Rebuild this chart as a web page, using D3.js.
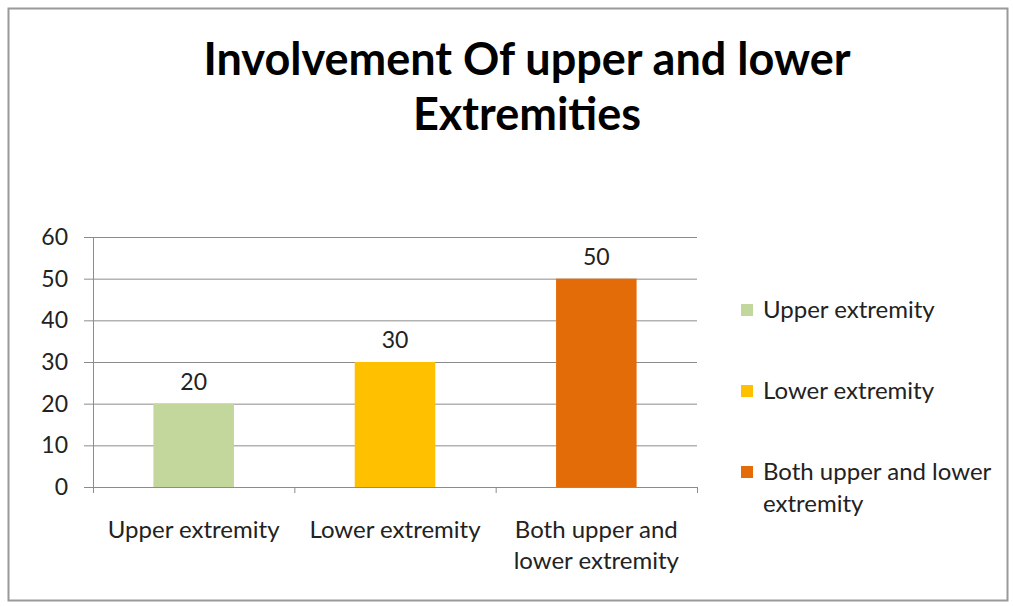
<!DOCTYPE html>
<html>
<head>
<meta charset="utf-8">
<script src="https://cdn.jsdelivr.net/npm/d3@7"></script>
<style>
  body { margin: 0; background: #fff; }
  svg { display: block; font-family: Lato, "Open Sans", sans-serif; }
</style>
</head>
<body>
<div id="chart"></div>
<script>
const categories = ['Upper extremity', 'Lower extremity', 'Both upper and lower extremity']
const values = [20, 30, 50]
const colors = ['#C3D69B', '#FFC000', '#E36C09']
const yTicks = [0, 10, 20, 30, 40, 50, 60]
const titleLines = ['Involvement Of upper and lower', 'Extremities']
const xLabelLines = [['Upper extremity'], ['Lower extremity'], ['Both upper and', 'lower extremity']]
const legendLines = [['Upper extremity'], ['Lower extremity'], ['Both upper and lower', 'extremity']]

const W = 1013, H = 607
const margin = {top: 237, right: 316, bottom: 120, left: 93}
const width = W - margin.left - margin.right
const height = H - margin.top - margin.bottom

const svg = d3.select('#chart').append('svg')
    .attr('width', W)
    .attr('height', H)

// outer frame
svg.append('rect')
    .attr('x', 8.5).attr('y', 8.5)
    .attr('width', 999).attr('height', 592)
    .attr('fill', '#fff')
    .attr('stroke', '#9a9a9a')
    .attr('stroke-width', 2)

svg.append('text')
    .attr('x', 527)
    .attr('text-anchor', 'middle')
    .style('font-weight', 'bold')
    .style('font-size', '45px')
    .attr('fill', '#000')
  .selectAll('tspan')
    .data(titleLines)
  .enter().append('tspan')
    .attr('x', 527)
    .attr('y', (d, i) => 75 + i * 55)
    .text(d => d)

const g = svg.append('g')
    .attr('transform', 'translate(' + margin.left + ',' + margin.top + ')')

const x = d3.scaleBand()
    .domain(categories)
    .range([0, width])
    .paddingInner(0.6)
    .paddingOuter(0.3)

const xTicks = d3.scaleBand().domain(categories).range([0, width])

const y = d3.scaleLinear()
    .domain([0, 60])
    .range([height, 0])

// gridlines
g.append('g')
    .selectAll('line')
    .data(yTicks)
  .enter().append('line')
    .attr('x1', -9).attr('x2', width)
    .attr('y1', d => y(d) + 0.5).attr('y2', d => y(d) + 0.5)
    .attr('stroke', '#8c8c8c')
    .attr('stroke-width', 1)

// y axis line
g.append('line')
    .attr('x1', 0.5).attr('x2', 0.5)
    .attr('y1', 0).attr('y2', height + 6)
    .attr('stroke', '#8c8c8c')

// x category ticks
g.append('g')
    .selectAll('line')
    .data(d3.range(categories.length + 1))
  .enter().append('line')
    .attr('x1', i => i * xTicks.bandwidth() + 0.5)
    .attr('x2', i => i * xTicks.bandwidth() + 0.5)
    .attr('y1', height).attr('y2', height + 6)
    .attr('stroke', '#8c8c8c')

g.append('g')
    .selectAll('text')
    .data(yTicks)
  .enter().append('text')
    .attr('x', -25)
    .attr('y', d => y(d))
    .attr('dy', '0.35em')
    .attr('text-anchor', 'end')
    .style('font-size', '23px')
    .attr('fill', '#222')
    .text(d => d)

g.selectAll('.bar')
    .data(values)
  .enter().append('rect')
    .attr('class', 'bar')
    .attr('x', (d, i) => x(categories[i]))
    .attr('y', d => y(d))
    .attr('width', x.bandwidth())
    .attr('height', d => height - y(d))
    .attr('fill', (d, i) => colors[i])

g.selectAll('.val')
    .data(values)
  .enter().append('text')
    .attr('class', 'val')
    .attr('x', (d, i) => x(categories[i]) + x.bandwidth() / 2)
    .attr('y', d => y(d) - 14)
    .attr('text-anchor', 'middle')
    .style('font-size', '23px')
    .attr('fill', '#222')
    .text(d => d)

const xl = g.append('g')
    .selectAll('text')
    .data(xLabelLines)
  .enter().append('text')
    .attr('text-anchor', 'middle')
    .style('font-size', '24px')
    .attr('fill', '#222')

xl.selectAll('tspan')
    .data((d, i) => d.map(t => ({t, i})))
  .enter().append('tspan')
    .attr('x', d => xTicks(categories[d.i]) + xTicks.bandwidth() / 2)
    .attr('y', (d, j) => height + 51 + j * 31)
    .text(d => d.t)

const legend = svg.append('g')
    .selectAll('g')
    .data(legendLines)
  .enter().append('g')
    .attr('transform', (d, i) => 'translate(741,' + (310 + i * 81) + ')')

legend.append('rect')
    .attr('x', 0).attr('y', -6)
    .attr('width', 12).attr('height', 12)
    .attr('fill', (d, i) => colors[i])

legend.append('text')
    .style('font-size', '24px')
    .attr('fill', '#222')
  .selectAll('tspan')
    .data(d => d)
  .enter().append('tspan')
    .attr('x', 22)
    .attr('y', (d, j) => j * 32)
    .attr('dy', '0.35em')
    .text(d => d)
</script>
</body>
</html>
